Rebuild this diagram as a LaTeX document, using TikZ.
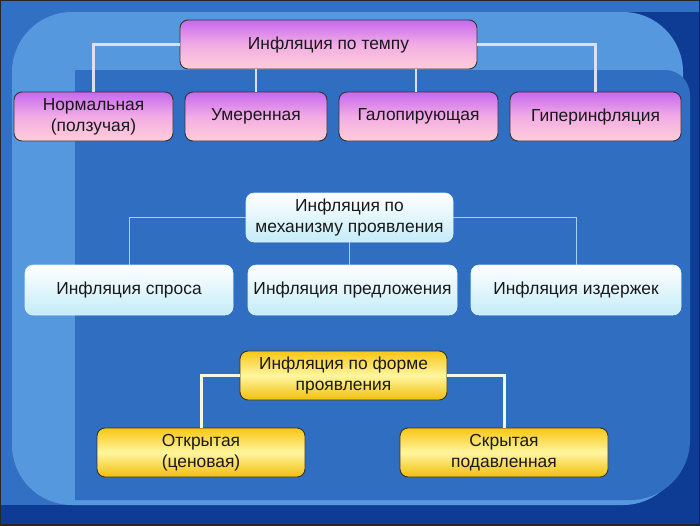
\documentclass[tikz,border=0pt]{standalone}
\usepackage{fontspec}
\setmainfont{Liberation Sans}
\usetikzlibrary{positioning}
\definecolor{navy}{RGB}{14,60,148}
\definecolor{midbg}{RGB}{50,112,196}
\definecolor{lightbg}{RGB}{86,152,222}
\definecolor{innerbg}{RGB}{47,110,192}
\definecolor{pinktop}{RGB}{198,104,240}
\definecolor{pinkmid}{RGB}{242,172,228}
\definecolor{pinkbot}{RGB}{255,206,216}
\definecolor{cyanbot}{RGB}{196,236,248}
\definecolor{yeltop}{RGB}{248,198,20}
\definecolor{yelmid}{RGB}{255,246,160}
\definecolor{yelbot}{RGB}{242,190,10}
\definecolor{txt}{RGB}{25,25,25}
\definecolor{linkA}{RGB}{222,222,242}
\definecolor{linkB}{RGB}{168,208,240}
\definecolor{linkC}{RGB}{240,250,222}
\tikzset{
  boxbase/.style={rounded corners=8pt, align=center, text=txt,
    font=\fontsize{17.4pt}{21pt}\selectfont, inner sep=2pt,
    minimum height=49pt},
  pinkbox/.style={boxbase, draw=black!80, line width=0.9pt,
    top color=pinktop, bottom color=pinkbot, middle color=pinkmid},
  cyanbox/.style={boxbase, draw=white!85!cyan, line width=0.6pt,
    top color=white, bottom color=cyanbot},
  yelbox/.style={boxbase, draw=black!80, line width=0.9pt,
    top color=yeltop, bottom color=yelbot, middle color=yelmid},
  linka/.style={draw=linkA, line width=2.6pt},
  linkb/.style={draw=linkB, line width=1pt},
  linkc/.style={draw=linkC, line width=3pt}
}
\begin{document}
\begin{tikzpicture}[x=1pt,y=-1pt]
\useasboundingbox (0,0) rectangle (700,525);
% background
\fill[navy] (0,0) rectangle (700,525);
\fill[midbg] (0,0) rectangle (700,12);
\fill[midbg] (0,0) rectangle (75,505);
\fill[lightbg, rounded corners=60pt] (12,12) rectangle (683,505);
\fill[innerbg] (75,70) -- (665,70) arc[start angle=270, end angle=360, radius=25]
  -- (690,440) arc[start angle=0, end angle=90, radius=60] -- (75,500) -- cycle;
\draw[black!85, line width=2pt] (0,0) rectangle (700,525);

% row 1
\node[pinkbox, minimum width=297pt] (tempo) at (328.5,44.5) {Инфляция по темпу};
\node[pinkbox, minimum width=159pt] (n1) at (93.5,116.5) {Нормальная\\(ползучая)};
\node[pinkbox, minimum width=142pt] (n2) at (256,116.5) {Умеренная};
\node[pinkbox, minimum width=159pt] (n3) at (418.5,116.5) {Галопирующая};
\node[pinkbox, minimum width=171pt] (n4) at (595.5,116.5) {Гиперинфляция};

% row 2
\node[cyanbox, minimum width=207pt] (mech) at (349.5,217.5) {Инфляция по\\механизму проявления};
\node[cyanbox, minimum width=208pt, minimum height=50pt] (m1) at (129,290) {Инфляция спроса};
\node[cyanbox, minimum width=209pt, minimum height=50pt] (m2) at (352.5,290) {Инфляция предложения};
\node[cyanbox, minimum width=210pt, minimum height=50pt] (m3) at (576,290) {Инфляция издержек};

% row 3
\node[yelbox, minimum width=207pt] (form) at (343.5,375.5) {Инфляция по форме\\проявления};
\node[yelbox, minimum width=208pt] (f1) at (201,452.5) {Открытая\\(ценовая)};
\node[yelbox, minimum width=208pt] (f2) at (504,452.5) {Скрытая\\подавленная};

% connectors
\draw[linka] (tempo.west) -| (n1.north);
\draw[linka] (tempo.east) -| (n4.north);
\draw[linka] (tempo.south -| n2.north) -- (n2.north);
\draw[linka] ([xshift=-2.5pt]tempo.south -| n3.north) -- ([xshift=-2.5pt]n3.north);
\draw[linkb] (mech.west) -| (m1.north);
\draw[linkb] (mech.east) -| (m3.north);
\draw[linkb] (mech.south) -- (mech.south |- m2.north);
\draw[linkc] (form.west) -| (f1.north);
\draw[linkc] (form.east) -| (f2.north);
\end{tikzpicture}
\end{document}
